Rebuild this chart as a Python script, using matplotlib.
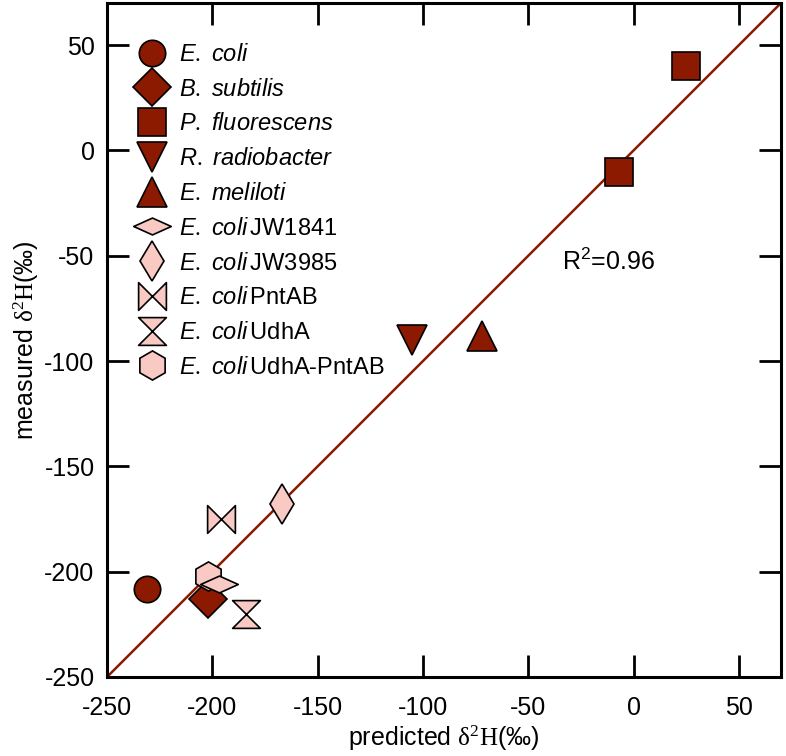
import matplotlib
matplotlib.use("Agg")
import matplotlib.pyplot as plt
from matplotlib.path import Path


plt.rcParams["font.family"] = ["Liberation Sans", "DejaVu Sans"]
plt.rcParams["mathtext.fontset"] = "custom"
plt.rcParams["mathtext.rm"] = "Liberation Serif"
plt.rcParams["mathtext.it"] = "Liberation Sans:italic"
plt.rcParams["mathtext.sf"] = "Liberation Sans"
plt.rcParams["axes.unicode_minus"] = False

DARK = "#8c1a00"
PINK = "#f9c9c3"

# one entry per strain, P. fluorescens has two measurements
labels = [
    r"$\mathit{E.\ coli}$",
    r"$\mathit{B.\ subtilis}$",
    r"$\mathit{P.\ fluorescens}$",
    r"$\mathit{R.\ radiobacter}$",
    r"$\mathit{E.\ meliloti}$",
    r"$\mathit{E.\ coli}\,$JW1841",
    r"$\mathit{E.\ coli}\,$JW3985",
    r"$\mathit{E.\ coli}\,$PntAB",
    r"$\mathit{E.\ coli}\,$UdhA",
    r"$\mathit{E.\ coli}\,$UdhA-PntAB",
]
predicted = [[-231], [-202], [25, -7], [-105], [-72], [-197], [-167], [-196], [-184], [-202]]
measured = [[-208], [-213], [40, -10], [-90], [-88], [-206], [-168], [-175], [-220], [-202]]

fit_x = [-250, 70]
fit_y = [-250, 70]
r2_text = "R$^{\\mathsf{2}}$=0.96"

x_ticks = [-250, -200, -150, -100, -50, 0, 50]
y_ticks = [-250, -200, -150, -100, -50, 0, 50]


def closed(verts):
    codes = [Path.MOVETO] + [Path.LINETO] * (len(verts) - 1) + [Path.CLOSEPOLY]
    return Path(verts + [verts[0]], codes)


wide_diamond = closed([(-1, 0), (0, 0.45), (1, 0), (0, -0.45)])
bowtie = closed([(-1, -1), (-1, 1), (0, 0), (1, 1), (1, -1), (0, 0)])
hourglass = closed([(-1, 1), (1, 1), (0, 0), (1, -1), (-1, -1), (0, 0)])

markers = ["o", "D", "s", "v", "^", wide_diamond, "d", bowtie, hourglass, "h"]
sizes = [19, 19.5, 19.5, 22, 22, 27, 20, 20, 20, 21]
faces = [DARK] * 5 + [PINK] * 5
zorders = [3, 3, 3, 3, 3, 5, 3, 3, 3, 4]

fig = plt.figure(figsize=(7.86, 7.56), dpi=100)
ax = fig.add_axes([107 / 786, 79 / 756, 674 / 786, 674 / 756])

ax.plot(fit_x, fit_y, color=DARK, lw=1.8, zorder=2)

for lab, px, py, m, s, fc, z in zip(labels, predicted, measured, markers, sizes, faces, zorders):
    ax.plot(px, py, linestyle="none", marker=m, ms=s, mfc=fc, mec="black",
            mew=1.2, label=lab, zorder=z)

ax.text(-34, -53, r2_text, fontsize=18, va="center", ha="left")

ax.set_xlim(-250, 70)
ax.set_ylim(-250, 70)
ax.set_xticks(x_ticks)
ax.set_yticks(y_ticks)
ax.tick_params(direction="in", length=15.5, width=2, labelsize=18,
               top=True, right=True)
ax.tick_params(axis="x", pad=14)
ax.tick_params(axis="y", pad=9)
for sp in ax.spines.values():
    sp.set_linewidth(2.2)

ax.set_xlabel(r"predicted $\mathrm{\delta^{2}H}$(‰)", fontsize=18, labelpad=2)
ax.set_ylabel(r"measured $\mathrm{\delta^{2}H}$(‰)", fontsize=18, labelpad=2)

ax.legend(loc="upper left", bbox_to_anchor=(26 / 674, 1 - 41 / 674),
          frameon=False, fontsize=17, borderpad=0, borderaxespad=0,
          handlelength=1.6, handletextpad=0.35, labelspacing=0.54,
          numpoints=1)

fig.savefig("out.png", dpi=100)
